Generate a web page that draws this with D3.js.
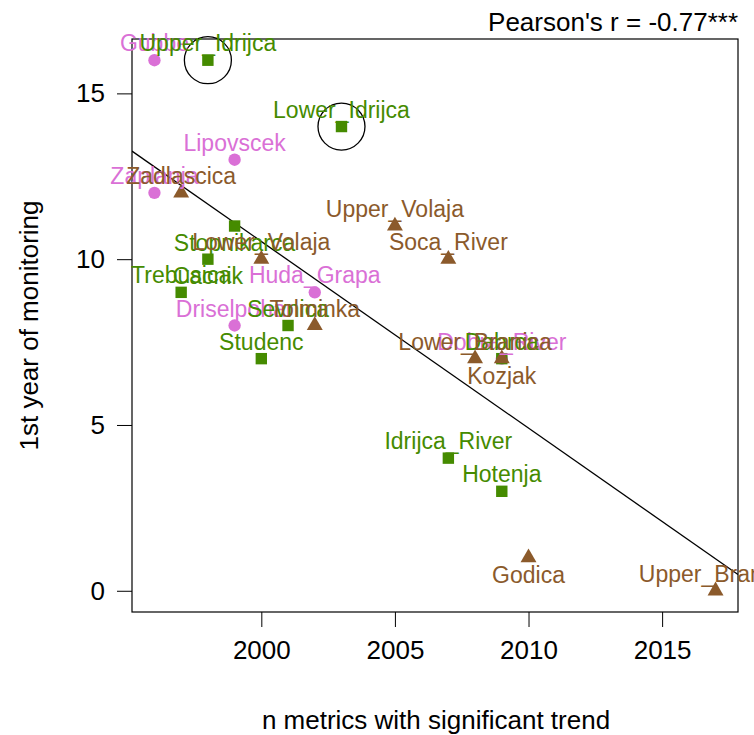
<!DOCTYPE html>
<html>
<head>
<meta charset="utf-8">
<script src="https://cdn.jsdelivr.net/npm/d3@7"></script>
<style>
  body { margin: 0; background: #fff; }
  svg { display: block; font-family: "Liberation Sans", Arial, sans-serif; }
</style>
</head>
<body>
<div id="chart"></div>
<script>
// one array per group (colour / symbol)
const pinkNames = ["Gubbe", "Lipovscek", "Zaplanja", "Huda_Grapa", "Driselpohar", "Dobra_River"];
const pinkX = [1996, 1999, 1996, 2002, 1999, 2009];
const pinkY = [16, 13, 12, 9, 8, 7];

const greenNames = ["Upper_Idrijca", "Lower_Idrijca", "Stopnikarca", "Cacnik", "Trebusica", "Sevnica",
  "Studenc", "Idrijca_River", "Hotenja", "Dabrca"];
const greenX = [1998, 2003, 1999, 1998, 1997, 2001, 2000, 2007, 2009, 2009];
const greenY = [16, 14, 11, 10, 9, 8, 7, 4, 3, 7];

const brownNames = ["Zadlascica", "Lower_Volaja", "Upper_Volaja", "Soca_River", "Tolminka",
  "Lower_Branica", "Kozjak", "Godica", "Upper_Branica"];
const brownX = [1997, 2000, 2005, 2007, 2002, 2008, 2009, 2010, 2017];
const brownY = [12, 10, 11, 10, 8, 7, 7, 1, 0];

const circled = ["Upper_Idrijca", "Lower_Idrijca"];
const labelBelow = ["Stopnikarca", "Cacnik", "Kozjak", "Godica"];

const xTicks = [2000, 2005, 2010, 2015];
const yTicks = [0, 5, 10, 15];

const xTitle = "n metrics with significant trend";
const yTitle = "1st year of monitoring";

const width = 754, height = 735;
const margin = { top: 39, right: 16, bottom: 123, left: 132 };
const innerW = width - margin.left - margin.right;
const innerH = height - margin.top - margin.bottom;

const groups = [
  { names: pinkNames, xs: pinkX, ys: pinkY, color: "#DA70D6", symbol: d3.symbolCircle, size: 120 },
  { names: greenNames, xs: greenX, ys: greenY, color: "#458B00", symbol: d3.symbolSquare, size: 130 },
  { names: brownNames, xs: brownX, ys: brownY, color: "#8B5A2B", symbol: d3.symbolTriangle, size: 110 }
];

const all = [];
groups.forEach(g => g.names.forEach((n, i) => all.push({ name: n, x: g.xs[i], y: g.ys[i], g: g })));

// R style 4% padding
const xExt = d3.extent(all, d => d.x), yExt = d3.extent(all, d => d.y);
const xPad = (xExt[1] - xExt[0]) * 0.04, yPad = (yExt[1] - yExt[0]) * 0.04;

const x = d3.scaleLinear().domain([xExt[0] - xPad, xExt[1] + xPad]).range([0, innerW]);
const y = d3.scaleLinear().domain([yExt[0] - yPad, yExt[1] + yPad]).range([innerH, 0]);

// least squares fit and pearson r
const mx = d3.mean(all, d => d.x), my = d3.mean(all, d => d.y);
let sxx = 0, syy = 0, sxy = 0;
all.forEach(d => {
  sxx += (d.x - mx) ** 2;
  syy += (d.y - my) ** 2;
  sxy += (d.x - mx) * (d.y - my);
});
const slope = sxy / sxx;
const intercept = my - slope * mx;
const r = sxy / Math.sqrt(sxx * syy);

const fmt = d3.formatLocale({ decimal: ".", thousands: ",", grouping: [3], currency: ["", ""], minus: "-" }).format(".2f");

const svg = d3.select("#chart").append("svg")
  .attr("width", width)
  .attr("height", height);

const g = svg.append("g")
  .attr("transform", "translate(" + margin.left + "," + margin.top + ")");

svg.append("defs").append("clipPath").attr("id", "plotclip")
  .append("rect").attr("width", innerW).attr("height", innerH);

// axes
const xAxis = g.append("g")
  .attr("transform", "translate(0," + innerH + ")")
  .call(d3.axisBottom(x).tickValues(xTicks).tickFormat(d3.format("d")).tickSize(15).tickPadding(14));
const yAxis = g.append("g")
  .call(d3.axisLeft(y).tickValues(yTicks).tickSize(15).tickPadding(12));
[xAxis, yAxis].forEach(a => {
  a.select(".domain").remove();
  a.selectAll("line").attr("stroke", "#000");
  a.selectAll("text").attr("fill", "#000").style("font-size", "26px").style("font-family", "Liberation Sans, Arial, sans-serif");
});
xAxis.selectAll("text").attr("dy", "0.71em");

// box
g.append("rect")
  .attr("width", innerW).attr("height", innerH)
  .attr("fill", "none").attr("stroke", "#000").attr("stroke-width", 1.2);

// regression line
const xd = x.domain();
g.append("line")
  .attr("clip-path", "url(#plotclip)")
  .attr("x1", x(xd[0])).attr("y1", y(intercept + slope * xd[0]))
  .attr("x2", x(xd[1])).attr("y2", y(intercept + slope * xd[1]))
  .attr("stroke", "#000").attr("stroke-width", 1.3);

// points
groups.forEach(gr => {
  g.append("g").selectAll("path")
    .data(all.filter(d => d.g === gr))
    .join("path")
    .attr("transform", d => "translate(" + x(d.x) + "," + y(d.y) + ")")
    .attr("d", d3.symbol().type(gr.symbol).size(gr.size))
    .attr("fill", gr.color);
});

// circles around highlighted sites
g.append("g").selectAll("circle")
  .data(all.filter(d => circled.includes(d.name)))
  .join("circle")
  .attr("cx", d => x(d.x)).attr("cy", d => y(d.y))
  .attr("r", 23.5)
  .attr("fill", "none").attr("stroke", "#000").attr("stroke-width", 1.3);

// labels
groups.forEach(gr => {
  g.append("g").selectAll("text")
    .data(all.filter(d => d.g === gr))
    .join("text")
    .attr("x", d => x(d.x))
    .attr("y", d => y(d.y) + (labelBelow.includes(d.name) ? 25 : -9))
    .attr("text-anchor", "middle")
    .attr("fill", gr.color)
    .style("font-size", "23px")
    .text(d => d.name);
});

// titles
svg.append("text")
  .attr("x", margin.left + innerW / 2 + 1)
  .attr("y", 729)
  .attr("text-anchor", "middle")
  .style("font-size", "26px")
  .text(xTitle);

svg.append("text")
  .attr("transform", "translate(38," + (margin.top + innerH / 2) + ") rotate(-90)")
  .attr("text-anchor", "middle")
  .style("font-size", "26px")
  .text(yTitle);

svg.append("text")
  .attr("x", margin.left + innerW)
  .attr("y", 31)
  .attr("text-anchor", "end")
  .style("font-size", "26px")
  .text("Pearson's r = " + fmt(r) + "***");
</script>
</body>
</html>
